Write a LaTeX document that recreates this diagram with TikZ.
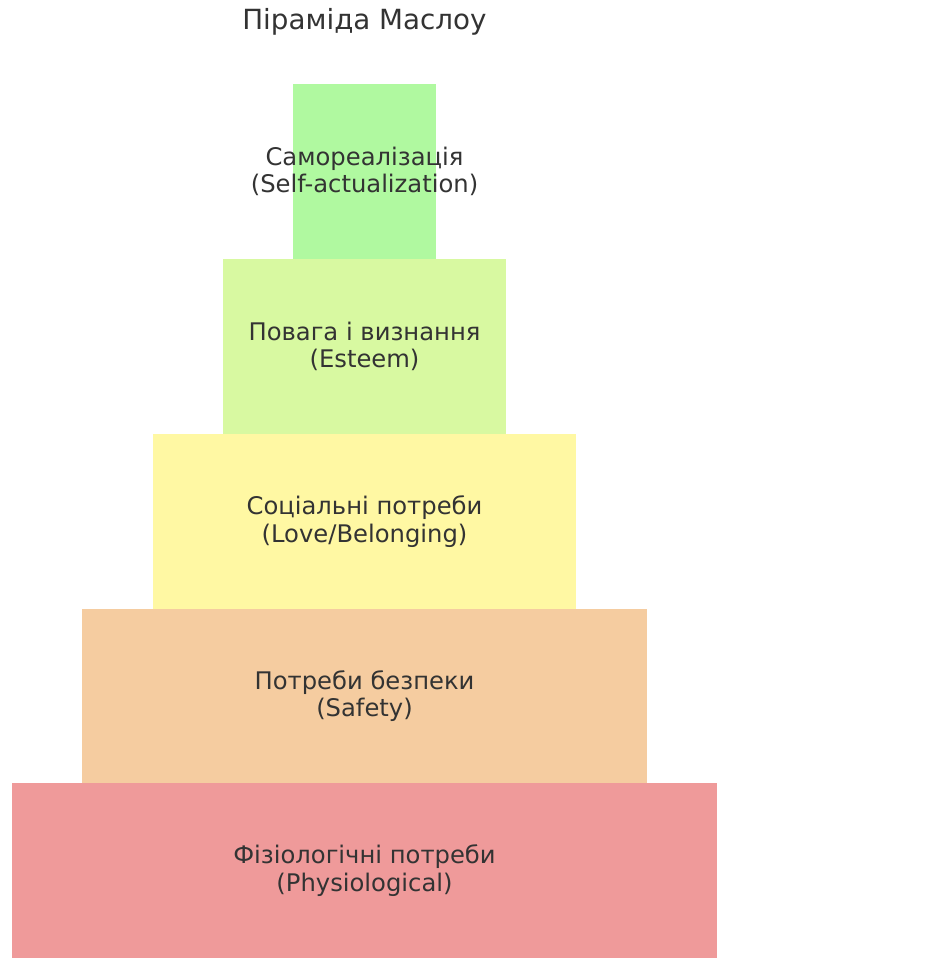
\documentclass[tikz,border=0pt]{standalone}
\usepackage{fontspec}
\setmainfont{DejaVu Sans}
\usepackage{tikz}
\usetikzlibrary{positioning}

\definecolor{selfgreen}{HTML}{B0F9A0}
\definecolor{esteemlime}{HTML}{D8F9A1}
\definecolor{loveyellow}{HTML}{FFF8A3}
\definecolor{safetypeach}{HTML}{F5CCA0}
\definecolor{physred}{HTML}{EF9A9A}
\definecolor{txtgray}{HTML}{333333}

\begin{document}
\begin{tikzpicture}[x=0.02cm, y=-0.02cm,
  level/.style={inner sep=0pt, minimum height=3.5cm},
  levtext/.style={inner sep=0pt, align=center, text=txtgray,
    font=\fontsize{13.8pt}{15.6pt}\selectfont}]
  \useasboundingbox (0,0) rectangle (949,959);
  % title
  \node[text=txtgray, font=\fontsize{15.8pt}{18pt}\selectfont] (title) at (364.5,22) {Піраміда Маслоу};
  % levels, from the top down
  \node[level, fill=selfgreen, minimum width=2.86cm] (self) at (364.5,171.5) {};
  \node[level, fill=esteemlime, minimum width=5.66cm] (esteem) at (364.5,346.5) {};
  \node[level, fill=loveyellow, minimum width=8.46cm] (love) at (364.5,521.5) {};
  \node[level, fill=safetypeach, minimum width=11.3cm] (safety) at (364.5,696) {};
  \node[level, fill=physred, minimum width=14.1cm] (phys) at (364.5,870.5) {};
  % labels
  \node[levtext] (selftxt) at (self) {Самореалізація\\(Self-actualization)};
  \node[levtext] (esteemtxt) at (esteem) {Повага і визнання\\(Esteem)};
  \node[levtext] (lovetxt) at (love) {Соціальні потреби\\(Love/Belonging)};
  \node[levtext] (safetytxt) at (safety) {Потреби безпеки\\(Safety)};
  \node[levtext] (physicaltxt) at (phys) {Фізіологічні потреби\\(Physiological)};
\end{tikzpicture}
\end{document}
